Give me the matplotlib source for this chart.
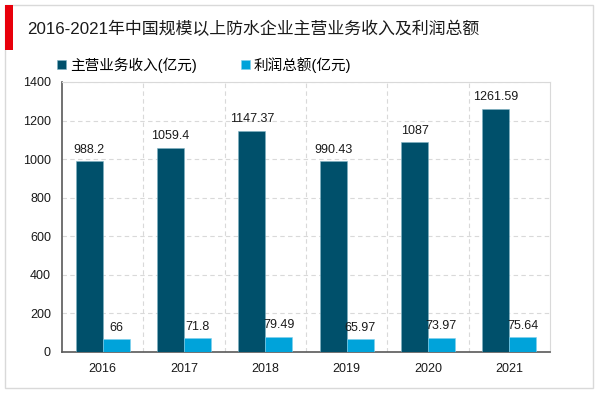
import matplotlib
matplotlib.use("Agg")
import matplotlib.pyplot as plt
from matplotlib.patches import Rectangle
import numpy as np

plt.rcParams['font.family'] = ['Liberation Sans', 'Noto Sans CJK SC', 'DejaVu Sans']

years = ['2016', '2017', '2018', '2019', '2020', '2021']
revenue = [988.2, 1059.4, 1147.37, 990.43, 1087, 1261.59]
profit = [66, 71.8, 79.49, 65.97, 73.97, 75.64]
revenue_labels = ['988.2', '1059.4', '1147.37', '990.43', '1087', '1261.59']
profit_labels = ['66', '71.8', '79.49', '65.97', '73.97', '75.64']
series_names = ['主营业务收入(亿元)', '利润总额(亿元)']
title = '2016-2021年中国规模以上防水企业主营业务收入及利润总额'

c_dark = '#00506B'
c_light = '#00A3DA'

fig = plt.figure(figsize=(6, 3.93), dpi=100)
# outer frame
fig.patches.append(Rectangle((5/600, 5/393), 588/600, 383/393, transform=fig.transFigure,
                             fill=False, edgecolor='#D9D9D9', linewidth=1))
# red bar
fig.patches.append(Rectangle((5/600, 1-50/393), 8/600, 45/393, transform=fig.transFigure,
                             facecolor='#E8000B', edgecolor='none'))
fig.text(27/600, 1-29/393, title, fontsize=12.2, va='center', ha='left', color='#1a1a1a')

ax = fig.add_axes([62/600, 1-352/393, 488/600, 270/393])
x = np.arange(len(years))
w = 0.33
b1 = ax.bar(x - w/2, revenue, w, color=c_dark, edgecolor='#7fb3c4', linewidth=0.4, label=series_names[0], zorder=3)
b2 = ax.bar(x + w/2, profit, w, color=c_light, edgecolor='#7fd0ec', linewidth=0.4, label=series_names[1], zorder=3)

for xi, v, s in zip(x, revenue, revenue_labels):
    ax.text(xi - w/2, v + 28, s, ha='center', va='bottom', fontsize=9, color='#1a1a1a')
for xi, v, s in zip(x, profit, profit_labels):
    ax.text(xi + w/2, v + 28, s, ha='center', va='bottom', fontsize=9, color='#1a1a1a')

ax.set_xlim(-0.5, len(years) - 0.5)
ax.set_ylim(0, 1400)
ax.set_yticks(range(0, 1401, 200))
ax.set_xticks(x)
ax.set_xticklabels(years)
ax.tick_params(axis='both', length=0, labelsize=9, colors='#1a1a1a')
ax.tick_params(axis='y', pad=8)
ax.tick_params(axis='x', pad=8)

for yv in range(200, 1401, 200):
    ax.axhline(yv, color='#D9D9D9', linestyle=(0, (4, 3)), linewidth=0.8, zorder=1)
for xv in np.arange(0.5, len(years) - 0.5, 1):
    ax.axvline(xv, color='#D9D9D9', linestyle=(0, (4, 3)), linewidth=0.8, zorder=1)

ax.spines['left'].set_color('#595959')
ax.spines['left'].set_linewidth(1.2)
ax.spines['bottom'].set_color('#595959')
ax.spines['bottom'].set_linewidth(1.2)
ax.spines['top'].set_color('#D9D9D9')
ax.spines['right'].set_color('#D9D9D9')

leg = fig.legend(handles=[b1, b2], labels=series_names, loc='center left',
                 bbox_to_anchor=(44/600, 1-65/393), ncol=2, frameon=False,
                 fontsize=10.5, handlelength=0.6, handleheight=0.6, handletextpad=0.3,
                 columnspacing=3.0)

fig.savefig('out.png', dpi=100)
